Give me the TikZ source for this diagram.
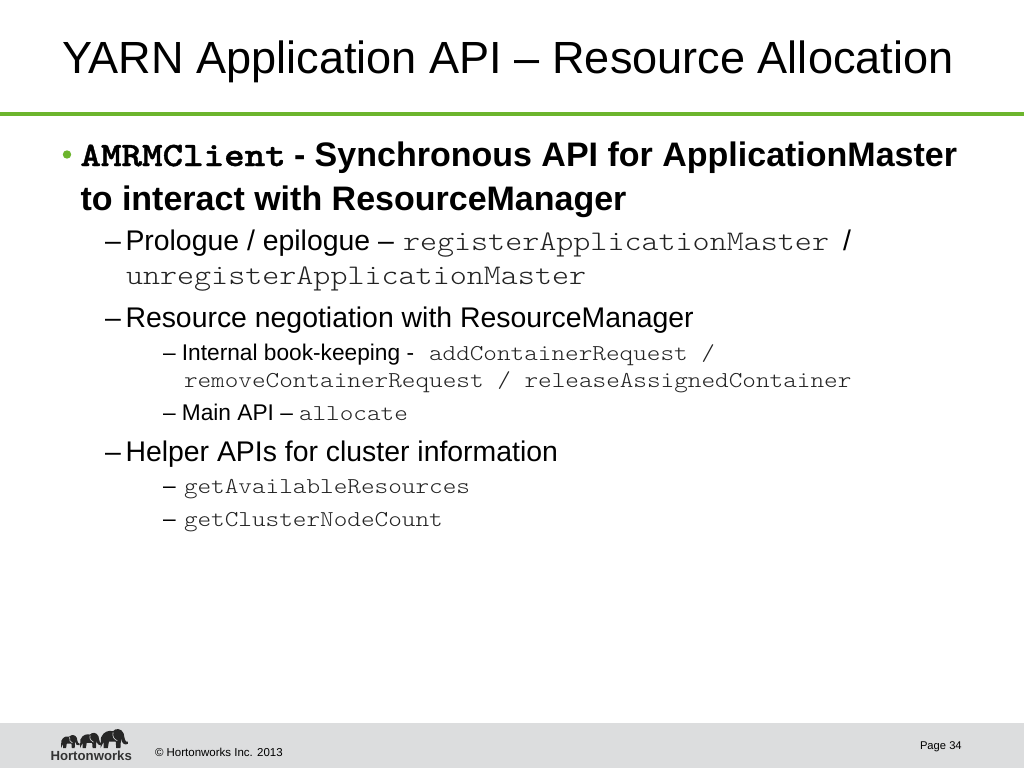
\documentclass[tikz,border=0pt]{standalone}
\usepackage{fontspec}
\setmainfont{Liberation Sans}
\setmonofont[FakeStretch=1.143, BoldFeatures={FakeBold=1.2}]{Latin Modern Mono Light}
\definecolor{hwgreen}{HTML}{6CB52D}
\definecolor{hwgrey}{HTML}{DCDDDE}
\definecolor{hwcode}{HTML}{222222}
\newcommand{\fsz}[1]{\fontsize{#1}{#1}\selectfont}
\newcommand{\code}[2]{{\fontsize{#1}{#1}\selectfont\ttfamily\color{hwcode}#2}}

\begin{document}
\begin{tikzpicture}[
    x=1pt, y=-1pt,
    line/.style={anchor=base west, inner sep=0pt, outer sep=0pt, text=black},
    elephant/.style={fill=black!85, draw=none}
  ]
  \useasboundingbox (0,0) rectangle (1024,768);
  %% Header and footer
  \fill[white] (0,0) rectangle (1024,768);
  \fill[hwgrey] (0,723) rectangle (1024,768);
  \fill[hwgreen] (0,112) rectangle (1024,116);
  \node[line] (title) at (62,74) {\fsz{45.1}YARN Application API – Resource Allocation};
  %% Level 1
  \fill[hwgreen] (67,154.5) circle (4.2);
  \node[line] (amrm) at (80.5,166) {\code{34.2}{\bfseries\color{black}AMRMClient}};
  \node[line] (amrm-a) at (294,166) {\fsz{34}\bfseries - Synchronous API for ApplicationMaster};
  \node[line] (amrm-b) at (80.5,210) {\fsz{34}\bfseries to interact with ResourceManager};
  %% Level 2
  \node[line] (pro-d) at (105,250) {\fsz{28.4}–};
  \node[line] (pro) at (125.5,250) {\fsz{28.4}Prologue / epilogue –};
  \node[line] (pro-c) at (403,250.5) {\code{28.4}{registerApplicationMaster}};
  \node[line] (pro-s) at (843,250) {\fsz{28.4}/};
  \node[line] (pro-u) at (126,284) {\code{28.4}{unregisterApplicationMaster}};
  \node[line] (neg-d) at (105,327) {\fsz{28.4}–};
  \node[line] (neg) at (125.5,327) {\fsz{28.4}Resource negotiation with ResourceManager};
  %% Level 3
  \node[line] (book) at (163,360.5) {\fsz{22.7}– Internal book-keeping -};
  \node[line] (book-c) at (429,360.5) {\code{22.7}{addContainerRequest /}};
  \node[line] (book-d) at (184,387.5) {\code{22.7}{removeContainerRequest / releaseAssignedContainer}};
  \node[line] (main) at (163,420.5) {\fsz{22.7}– Main API –};
  \node[line] (main-c) at (299,420.5) {\code{22.7}{allocate}};
  %% Level 2 again
  \node[line] (help-d) at (105,461) {\fsz{28.4}–};
  \node[line] (help) at (125.5,461) {\fsz{28.4}Helper APIs for cluster information};
  \node[line] (av-d) at (163,493.5) {\fsz{22.7}–};
  \node[line] (av) at (184,493.5) {\code{22.7}{getAvailableResources}};
  \node[line] (cn-d) at (163,526.5) {\fsz{22.7}–};
  \node[line] (cn) at (184,526.5) {\code{22.7}{getClusterNodeCount}};
  %% Footer logo and texts
  \foreach \ex/\es in {61/0.72, 80/0.84, 100.5/1.05} {
    \begin{scope}[shift={(\ex,748)}, scale=\es]
      \fill[elephant] (0,0) -- (0.5,-10) .. controls (3,-16) and (8,-17) .. (12,-16)
        .. controls (14,-19) and (20,-19) .. (22,-14) .. controls (23,-8) and (24,-5) .. (26,-6)
        -- (26,-4) .. controls (23,-2) and (20,-5) .. (19.5,-9) -- (19,0) -- (15,0) -- (14.5,-6)
        -- (8,-6) -- (7,0) -- (3,0) -- (3,-6) -- cycle;
      \draw[hwgrey, line width=0.6] (12,-15) .. controls (11,-11) and (13,-8) .. (16,-7);
    \end{scope}
  }
  \node[line] (logo) at (50.5,760.5) {\fsz{13.2}\bfseries\color{black!80}Hortonworks};
  \node[line] (copy) at (155,756) {\fsz{11.5}© Hortonworks Inc. 2013};
  \node[line] (page) at (920,749) {\fsz{11.2}Page 34};
\end{tikzpicture}
\end{document}
